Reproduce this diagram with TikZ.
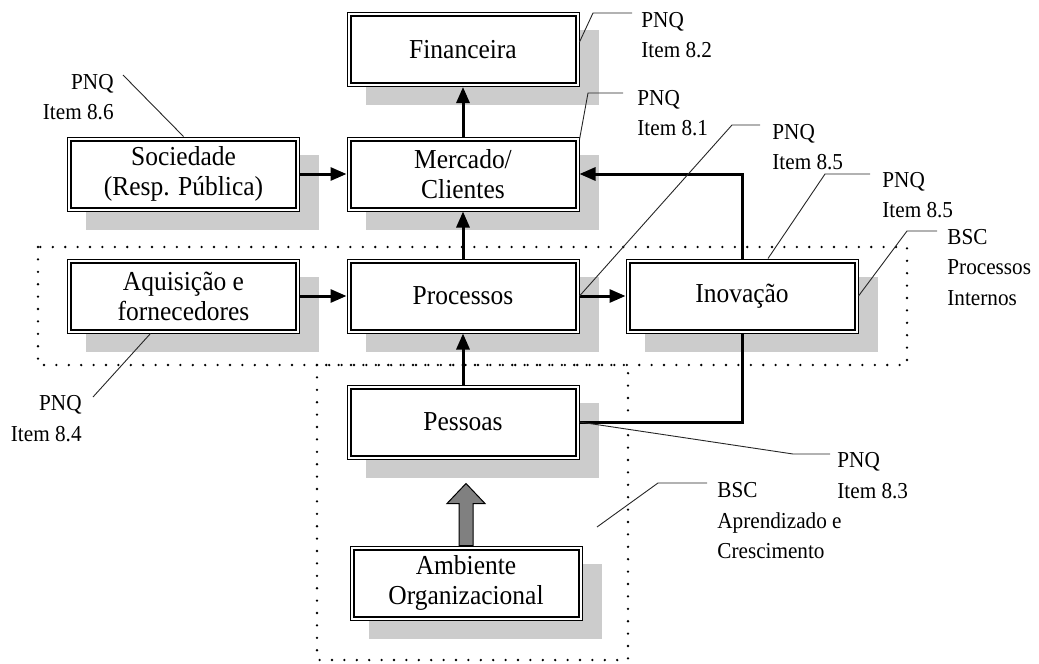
\documentclass[tikz,border=0pt]{standalone}
\usepackage{fontspec}
\setmainfont{Liberation Serif}[FakeStretch=0.93]
\usetikzlibrary{arrows.meta,calc,backgrounds}
\begin{document}
\begin{tikzpicture}[x=0.5pt,y=-0.5pt,
  box/.style={draw, line width=0.5pt, fill=white, minimum width=116pt,
    minimum height=37pt, inner sep=0pt, align=center,
    font=\fontsize{13.7}{15}\selectfont},
  flow/.style={line width=1.5pt, -{Triangle[length=8pt,width=6.5pt]}},
  link/.style={line width=1.5pt},
  leader/.style={line width=0.45pt, black!85},
  note/.style={inner sep=0pt, align=left, font=\fontsize{11.4}{15.25}\selectfont},
  zone/.style={line width=1.3pt, line cap=round, dash pattern=on 0pt off 6.2pt},
  shade/.style={fill=black!20},
  bigarrow/.style={fill=black!50, draw=black, line width=0.5pt, line join=miter},
]
\useasboundingbox (0,0) rectangle (1039,664);

% dotted zones: internal processes, learning and growth
\draw[zone] (38,247) rectangle (907,365);
\draw[zone] (317,365) rectangle (628,660);

% boxes
\node[box] (fin) at (463,49.5) {Financeira};
\node[box] (soc) at (183.5,174) {Sociedade\\(Resp. Pública)};
\node[box] (mer) at (463,174) {Mercado/\\Clientes};
\node[box] (aqu) at (183.5,296) {Aquisição e\\fornecedores};
\node[box] (pro) at (463,296) {Processos};
\node[box] (ino) at (742,296) {Inovação};
\node[box] (pes) at (463,422) {Pessoas};
\node[box] (amb) at (466,583) {Ambiente\\Organizacional};

% inner frame and drop shadow of each box
\foreach \n in {fin,soc,mer,aqu,pro,ino,pes,amb}{
  \draw[line width=1pt] ([shift={(2pt,-2pt)}]\n.north west) rectangle ([shift={(-2pt,2pt)}]\n.south east);
  \begin{scope}[on background layer]
    \fill[shade] ($(\n.north west)+(19,18)$) rectangle ($(\n.south east)+(19,18)$);
  \end{scope}
}

% flows
\draw[flow] (mer) -- (fin);
\draw[flow] (soc) -- (mer);
\draw[flow] (pro) -- (mer);
\draw[flow] (aqu) -- (pro);
\draw[flow] (pro) -- (ino);
\draw[flow] (ino.north) |- (mer.east);
\draw[flow] (pes) -- (pro);
\draw[link] (pes.east) -| (ino.south);

% block arrow from the organizational environment
\draw[bigarrow] ($(amb.north)+(-7,0)$) -- ($(amb.north)+(-7,-42)$) -- ($(amb.north)+(-19,-42)$)
  -- ($(amb.north)+(0,-62)$) -- ($(amb.north)+(19,-42)$) -- ($(amb.north)+(7,-42)$)
  -- ($(amb.north)+(7,0)$) -- cycle;

% callout texts
\node[note, anchor=north west] (l82) at (641,12) {PNQ\\Item 8.2};
\node[note, anchor=north west] (l81) at (637,90) {PNQ\\Item 8.1};
\node[note, anchor=north west] (l85a) at (772,124) {PNQ\\Item 8.5};
\node[note, anchor=north west] (l85b) at (882,172) {PNQ\\Item 8.5};
\node[note, anchor=north west] (bpi) at (947,229) {BSC\\Processos\\Internos};
\node[note, anchor=north east, align=right] (l86) at (114,74) {PNQ\\Item 8.6};
\node[note, anchor=north east, align=right] (l84) at (82,395) {PNQ\\Item 8.4};
\node[note, anchor=north west] (l83) at (837,452) {PNQ\\Item 8.3};
\node[note, anchor=north west] (bac) at (717,482) {BSC\\Aprendizado e\\Crescimento};
\coordinate (acz) at (597,527);

% callout leaders
\draw[leader] ($(fin.north east)+(0,30)$) -- (593,13) -- ($(l82.north west)+(-9,1)$);
\draw[leader] ($(mer.north east)+(0,3)$) -- (588,93) -- ($(l81.north west)+(-14,3)$);
\draw[leader] (pro.east) -- (732,125) -- ($(l85a.north west)+(-12,1)$);
\draw[leader] ($(ino.north)+(26,0)$) -- (825,174) -- ($(l85b.north west)+(-12,2)$);
\draw[leader] (ino.east) -- (907,231) -- ($(bpi.north west)+(-10,2)$);
\draw[leader] (soc.north) -- ($(l86.north east)+(9,1)$);
\draw[leader] ($(aqu.south)+(-33,0)$) -- ($(l84.north east)+(11,2)$);
\draw[leader] (pes.east) -- (793,454) -- ($(l83.north west)+(-7,2)$);
\draw[leader] (acz) -- (658,483) -- ($(bac.north west)+(-10,1)$);
\end{tikzpicture}
\end{document}
